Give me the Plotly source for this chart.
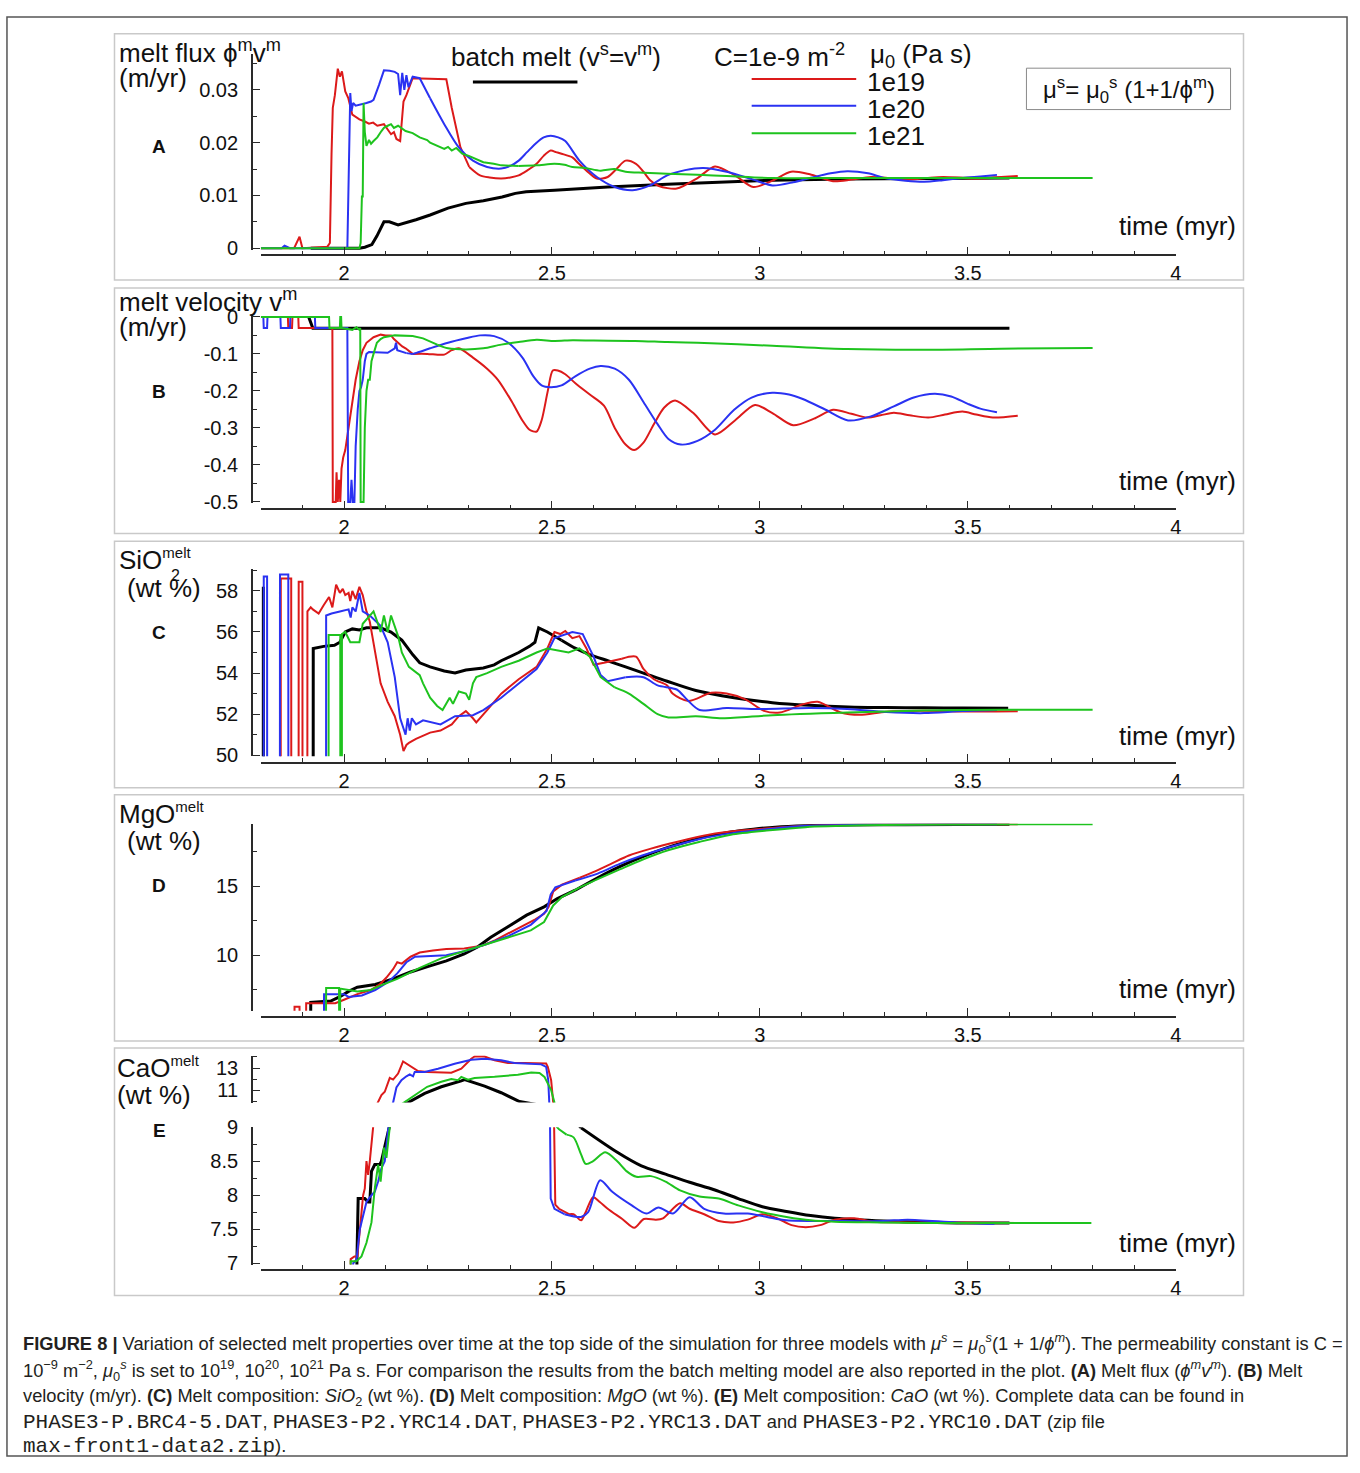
import plotly.graph_objects as go

W, H = 1360, 1473
FONT = "Liberation Sans, Arial, Helvetica, sans-serif"
MONO = "Liberation Mono, Courier New, monospace"
RED, BLUE, GREEN, BLACK = "#dc1a1a", "#2a32f2", "#1ec31e", "#000000"
AXC = "#2a2a2a"

# ---------------- Panel A : melt flux (m/yr) ----------------
A_black_t = [1.92, 2.037, 2.05, 2.067, 2.079, 2.096, 2.109, 2.13, 2.173, 2.207, 2.25, 2.293, 2.335, 2.38, 2.412, 2.438,
             2.506, 2.634, 2.777, 2.9, 3.03, 3.2, 3.4, 3.6]
A_black_v = [0, 0, 0.0002, 0.0007, 0.0023, 0.005, 0.005, 0.0044, 0.0054, 0.0063, 0.0076, 0.0085, 0.009, 0.0097, 0.0104,
             0.0107, 0.011, 0.0116, 0.0121, 0.0125, 0.0129, 0.0131, 0.0132, 0.0133]
A_red_t = [1.80, 1.88, 1.893, 1.897, 1.90, 1.96, 1.966, 1.970, 1.973, 1.978, 1.985, 1.990, 1.995, 2.003, 2.010, 2.020,
           2.030, 2.037, 2.050, 2.060, 2.070, 2.080, 2.096, 2.105, 2.113, 2.120, 2.126, 2.135, 2.143, 2.150, 2.156,
           2.165, 2.246, 2.259, 2.280, 2.301, 2.327, 2.350, 2.378, 2.400, 2.420, 2.440, 2.463, 2.480, 2.497, 2.510,
           2.523, 2.549, 2.565, 2.583, 2.608, 2.634, 2.655, 2.677, 2.702, 2.720, 2.736, 2.757, 2.800, 2.850, 2.892,
           2.940, 2.984, 3.030, 3.075, 3.120, 3.176, 3.220, 3.267, 3.310, 3.350, 3.400, 3.441, 3.490, 3.533, 3.580, 3.620]
A_red_v = [0, 0, 0.0022, 0.0005, 0, 0.0003, 0.001, 0.018, 0.0266, 0.029, 0.034, 0.0325, 0.0335, 0.0297, 0.0285, 0.0253,
           0.0248, 0.0244, 0.024, 0.0236, 0.0238, 0.0232, 0.0235, 0.0225, 0.0216, 0.022, 0.0207, 0.0203, 0.0278, 0.029,
           0.0303, 0.0322, 0.032, 0.0266, 0.0191, 0.0154, 0.0138, 0.0134, 0.0132, 0.0134, 0.0138, 0.0147, 0.016, 0.0175,
           0.0185, 0.0182, 0.0179, 0.0172, 0.016, 0.0147, 0.0132, 0.0135, 0.015, 0.0166, 0.016, 0.0145, 0.0129, 0.0118,
           0.0113, 0.0133, 0.0155, 0.0138, 0.0116, 0.0128, 0.0145, 0.014, 0.0127, 0.013, 0.0135, 0.0133, 0.013, 0.0133,
           0.0135, 0.0133, 0.0132, 0.0135, 0.0137]
A_blue_t = [1.80, 1.85, 1.857, 1.862, 1.87, 2.008, 2.012, 2.015, 2.018, 2.022, 2.028, 2.04, 2.054, 2.065, 2.071, 2.084,
            2.096, 2.11, 2.122, 2.13, 2.135, 2.14, 2.145, 2.15, 2.155, 2.165, 2.175, 2.182, 2.207, 2.241, 2.276, 2.31,
            2.344, 2.378, 2.40, 2.42, 2.44, 2.463, 2.48, 2.497, 2.515, 2.532, 2.566, 2.608, 2.651, 2.694, 2.736, 2.777,
            2.82, 2.864, 2.92, 2.984, 3.03, 3.08, 3.12, 3.17, 3.21, 3.26, 3.30, 3.35, 3.395, 3.44, 3.487, 3.53, 3.57]
A_blue_v = [0, 0, 0.0005, 0.0003, 0, 0, 0.02, 0.0294, 0.026, 0.0275, 0.027, 0.0272, 0.0275, 0.0278, 0.0281, 0.0309,
            0.0337, 0.0336, 0.0334, 0.033, 0.029, 0.0332, 0.030, 0.0328, 0.0305, 0.0325, 0.0323, 0.0322, 0.0284, 0.0235,
            0.0191, 0.0166, 0.0154, 0.0151, 0.0156, 0.0166, 0.0182, 0.02, 0.021, 0.0213, 0.021, 0.0203, 0.0166, 0.0135,
            0.0116, 0.011, 0.0119, 0.0138, 0.0148, 0.0152, 0.0145, 0.013, 0.0119, 0.0125, 0.0133, 0.0142, 0.0146, 0.0142,
            0.0133, 0.0128, 0.0126, 0.0129, 0.0133, 0.0136, 0.0139]
A_green_t = [1.80, 2.037, 2.040, 2.043, 2.045, 2.047, 2.050, 2.054, 2.06, 2.065, 2.071, 2.08, 2.09, 2.096, 2.105, 2.113,
             2.12, 2.13, 2.148, 2.165, 2.182, 2.20, 2.207, 2.22, 2.241, 2.25, 2.259, 2.27, 2.284, 2.30, 2.31, 2.335, 2.36,
             2.378, 2.42, 2.463, 2.506, 2.53, 2.549, 2.58, 2.617, 2.65, 2.677, 2.72, 2.777, 2.85, 2.92, 3.03, 3.2, 3.5, 3.8]
A_green_v = [0, 0, 0.001, 0.0098, 0.0098, 0.0275, 0.022, 0.0194, 0.0205, 0.0198, 0.0203, 0.021, 0.0222, 0.0228, 0.0232,
             0.0235, 0.0228, 0.0232, 0.0222, 0.0218, 0.021, 0.0205, 0.020, 0.0195, 0.0188, 0.0192, 0.0185, 0.019, 0.0179,
             0.0175, 0.0172, 0.0163, 0.016, 0.0157, 0.0156, 0.0157, 0.016, 0.0158, 0.0154, 0.0152, 0.0147, 0.015, 0.0145,
             0.0143, 0.0141, 0.0139, 0.0137, 0.0133, 0.0133, 0.0133, 0.0133]

# ---------------- Panel B : melt velocity (m/yr) ----------------
B_black_t = [1.915, 1.925, 3.6]
B_black_v = [0, -0.031, -0.031]
B_red_t = [1.80, 1.865, 1.866, 1.875, 1.876, 1.89, 1.891, 1.972, 1.973, 1.98, 1.982, 1.985, 1.988, 1.991, 1.994, 1.998,
           2.003, 2.007, 2.015, 2.02, 2.028, 2.037, 2.045, 2.054, 2.071, 2.088, 2.10, 2.113, 2.12, 2.13, 2.14, 2.148,
           2.165, 2.20, 2.241, 2.259, 2.276, 2.31, 2.344, 2.37, 2.404, 2.429, 2.446, 2.463, 2.475, 2.49, 2.502, 2.514,
           2.532, 2.557, 2.591, 2.625, 2.651, 2.677, 2.698, 2.72, 2.745, 2.77, 2.796, 2.84, 2.892, 2.94, 2.988, 3.03,
           3.08, 3.13, 3.176, 3.22, 3.258, 3.29, 3.322, 3.36, 3.405, 3.445, 3.487, 3.52, 3.56, 3.62]
B_red_v = [0, 0, -0.03, -0.03, 0, 0, -0.03, -0.03, -0.5, -0.5, -0.42, -0.5, -0.44, -0.5, -0.41, -0.38, -0.36, -0.33,
           -0.27, -0.22, -0.17, -0.12, -0.09, -0.07, -0.055, -0.048, -0.05, -0.05, -0.06, -0.07, -0.08, -0.085, -0.1,
           -0.1, -0.102, -0.09, -0.085, -0.11, -0.14, -0.17, -0.23, -0.28, -0.305, -0.31, -0.28, -0.2, -0.145, -0.145,
           -0.155, -0.18, -0.21, -0.24, -0.3, -0.345, -0.36, -0.34, -0.29, -0.245, -0.226, -0.26, -0.318, -0.28,
           -0.238, -0.26, -0.293, -0.275, -0.251, -0.262, -0.272, -0.266, -0.259, -0.266, -0.272, -0.264, -0.256,
           -0.264, -0.272, -0.267]
B_blue_t = [1.80, 1.806, 1.807, 1.815, 1.816, 1.847, 1.848, 1.87, 1.871, 1.93, 1.931, 2.008, 2.010, 2.015, 2.018, 2.021,
            2.025, 2.028, 2.033, 2.037, 2.041, 2.045, 2.05, 2.054, 2.06, 2.071, 2.09, 2.105, 2.122, 2.125, 2.128, 2.139,
            2.15, 2.165, 2.18, 2.207, 2.25, 2.293, 2.327, 2.361, 2.395, 2.429, 2.455, 2.475, 2.497, 2.523, 2.557, 2.591,
            2.617, 2.651, 2.685, 2.72, 2.754, 2.78, 2.81, 2.85, 2.892, 2.938, 2.98, 3.03, 3.07, 3.103, 3.158, 3.212,
            3.267, 3.322, 3.37, 3.42, 3.46, 3.5, 3.53, 3.57]
B_blue_v = [0, 0, -0.03, -0.03, 0, 0, -0.03, -0.03, 0, 0, -0.03, -0.03, -0.5, -0.5, -0.44, -0.5, -0.5, -0.35, -0.25,
            -0.2, -0.19, -0.17, -0.12, -0.1, -0.095, -0.095, -0.097, -0.097, -0.085, -0.07, -0.09, -0.095, -0.098, -0.1,
            -0.095, -0.085, -0.07, -0.058, -0.05, -0.052, -0.07, -0.11, -0.16, -0.185, -0.19, -0.185, -0.16, -0.14,
            -0.133, -0.14, -0.17, -0.23, -0.29, -0.33, -0.345, -0.335, -0.305, -0.251, -0.218, -0.205, -0.21, -0.222,
            -0.251, -0.28, -0.269, -0.242, -0.218, -0.208, -0.215, -0.235, -0.248, -0.258]
B_green_t = [1.80, 1.964, 1.965, 1.99, 1.991, 1.993, 1.994, 2.02, 2.03, 2.037, 2.039, 2.040, 2.047, 2.05, 2.054, 2.058,
             2.062, 2.066, 2.071, 2.079, 2.088, 2.096, 2.122, 2.165, 2.19, 2.224, 2.25, 2.293, 2.335, 2.378, 2.42, 2.463,
             2.506, 2.55, 2.6, 2.7, 2.777, 2.85, 3.03, 3.21, 3.395, 3.58, 3.8]
B_green_v = [0, 0, -0.03, -0.03, 0, 0, -0.03, -0.035, -0.028, -0.035, -0.03, -0.5, -0.5, -0.3, -0.2, -0.17, -0.17,
             -0.12, -0.1, -0.07, -0.06, -0.055, -0.05, -0.052, -0.058, -0.075, -0.085, -0.088, -0.085, -0.075, -0.068,
             -0.062, -0.065, -0.063, -0.064, -0.065, -0.068, -0.07, -0.078, -0.087, -0.089, -0.086, -0.084]

# ---------------- Panel C : SiO2 in melt (wt %) ----------------
C_black_t = [1.80, 1.805, 1.806, 1.807, 1.925, 1.926, 1.951, 1.977, 1.99, 2.003, 2.02, 2.037, 2.054, 2.088, 2.113, 2.139,
             2.165, 2.182, 2.207, 2.241, 2.267, 2.293, 2.335, 2.361, 2.378, 2.42, 2.446, 2.459, 2.468, 2.489, 2.523,
             2.557, 2.591, 2.634, 2.677, 2.72, 2.777, 2.846, 2.938, 3.03, 3.12, 3.212, 3.304, 3.395, 3.487, 3.597]
C_black_v = [0, 0, 58.2, 0, 0, 55.2, 55.3, 55.35, 55.5, 56.0, 56.15, 56.1, 56.2, 56.2, 56.0, 55.6, 54.9, 54.5, 54.3, 54.1,
             54.0, 54.15, 54.25, 54.4, 54.6, 55.0, 55.3, 55.5, 56.2, 56.0, 55.6, 55.2, 54.9, 54.6, 54.3, 54.0, 53.6, 53.15,
             52.8, 52.56, 52.43, 52.35, 52.32, 52.31, 52.3, 52.29]
C_red_t = [1.80, 1.847, 1.848, 1.873, 1.874, 1.89, 1.891, 1.90, 1.901, 1.911, 1.912, 1.92, 1.925, 1.939, 1.951, 1.958,
           1.964, 1.972, 1.981, 1.99, 1.997, 2.003, 2.011, 2.015, 2.02, 2.028, 2.037, 2.045, 2.054, 2.062, 2.071, 2.08,
           2.088, 2.105, 2.122, 2.135, 2.143, 2.15, 2.156, 2.173, 2.207, 2.232, 2.259, 2.276, 2.293, 2.31, 2.318, 2.344,
           2.378, 2.42, 2.463, 2.489, 2.506, 2.52, 2.532, 2.549, 2.566, 2.583, 2.6, 2.625, 2.668, 2.702, 2.72, 2.745,
           2.777, 2.79, 2.828, 2.883, 2.92, 2.965, 3.01, 3.048, 3.103, 3.139, 3.194, 3.24, 3.304, 3.395, 3.487, 3.62]
C_red_v = [0, 0, 58.6, 58.6, 0, 0, 58.45, 58.45, 0, 0, 57.0, 57.2, 57.1, 56.9, 57.3, 57.5, 57.7, 57.2, 58.3, 57.9, 58.1,
           57.8, 57.9, 57.5, 58.0, 57.6, 58.2, 57.8, 57.0, 56.5, 55.5, 54.5, 53.5, 52.6, 51.9, 51.0, 50.2, 50.5, 50.6,
           50.8, 51.1, 51.2, 51.5, 51.9, 52.15, 51.8, 51.6, 52.2, 53.0, 53.7, 54.3, 55.2, 56.0, 55.9, 56.05, 55.7, 55.8,
           55.2, 54.4, 54.5, 54.7, 54.8, 54.2, 53.7, 53.4, 53.0, 52.64, 53.04, 53.0, 52.72, 52.16, 52.08, 52.48, 52.6,
           52.08, 51.97, 52.12, 52.16, 52.13, 52.14]
C_blue_t = [1.80, 1.806, 1.807, 1.815, 1.816, 1.845, 1.846, 1.866, 1.867, 1.956, 1.957, 1.97, 1.99, 2.0, 2.011, 2.016,
            2.02, 2.028, 2.037, 2.045, 2.062, 2.088, 2.105, 2.122, 2.135, 2.148, 2.153, 2.158, 2.163, 2.173, 2.19, 2.232,
            2.267, 2.31, 2.335, 2.378, 2.42, 2.463, 2.489, 2.506, 2.549, 2.574, 2.6, 2.617, 2.634, 2.677, 2.72, 2.754,
            2.8, 2.825, 2.855, 2.92, 2.993, 3.12, 3.21, 3.304, 3.395, 3.487, 3.57]
C_blue_v = [0, 0, 58.7, 58.7, 0, 0, 58.8, 58.8, 0, 0, 56.8, 56.9, 57.0, 57.05, 57.1, 56.7, 57.2, 57.0, 57.9, 57.0, 56.8,
            56.3, 55.5, 53.8, 51.8, 51.0, 51.8, 51.2, 51.8, 51.5, 51.7, 51.5, 51.9, 51.95, 52.2, 52.8, 53.5, 54.2, 55.0,
            55.7, 56.0, 55.9, 54.8, 53.9, 53.6, 53.8, 53.8, 53.4, 53.2, 52.7, 52.2, 52.3, 52.25, 52.3, 52.25, 52.1,
            52.05, 52.15, 52.2]
C_green_t = [1.80, 1.962, 1.963, 1.991, 1.992, 1.994, 1.995, 2.003, 2.015, 2.037, 2.045, 2.071, 2.08, 2.088, 2.096,
             2.105, 2.113, 2.13, 2.139, 2.156, 2.182, 2.19, 2.207, 2.224, 2.237, 2.254, 2.262, 2.276, 2.293, 2.301, 2.31,
             2.318, 2.344, 2.378, 2.42, 2.463, 2.489, 2.515, 2.54, 2.566, 2.591, 2.617, 2.651, 2.685, 2.72, 2.754, 2.78,
             2.846, 2.91, 3.03, 3.21, 3.395, 3.58, 3.8]
C_green_v = [0, 0, 55.85, 55.85, 0, 0, 55.9, 56.0, 55.5, 55.5, 56.4, 57.0, 56.5, 56.0, 56.8, 56.0, 56.8, 55.8, 55.0,
             54.3, 53.9, 53.5, 52.8, 52.4, 52.2, 52.8, 52.5, 53.1, 53.0, 52.7, 53.5, 53.8, 54.0, 54.3, 54.6, 55.0, 55.2,
             55.1, 55.0, 55.2, 54.8, 53.8, 53.3, 53.0, 52.5, 52.0, 51.84, 51.9, 51.8, 51.95, 52.08, 52.18, 52.22, 52.22]

# ---------------- Panel D : MgO in melt (wt %) ----------------
D_black_t = [1.80, 1.919, 1.92, 1.968, 1.989, 2.011, 2.032, 2.075, 2.118, 2.16, 2.203, 2.246, 2.289, 2.321, 2.353, 2.396,
             2.439, 2.481, 2.513, 2.556, 2.61, 2.663, 2.717, 2.77, 2.824, 2.877, 2.93, 2.984, 3.037, 3.11, 3.2, 3.35, 3.6]
D_black_v = [0, 0, 6.6, 6.7, 7.0, 7.4, 7.7, 7.9, 8.3, 8.8, 9.2, 9.6, 10.1, 10.6, 11.3, 12.1, 12.9, 13.5, 14.1, 14.7,
             15.6, 16.4, 17.1, 17.7, 18.2, 18.6, 18.9, 19.1, 19.25, 19.35, 19.4, 19.43, 19.45]
D_red_t = [1.80, 1.880, 1.881, 1.893, 1.894, 1.908, 1.909, 1.979, 2.0, 2.032, 2.064, 2.086, 2.102, 2.118, 2.128, 2.139,
           2.16, 2.182, 2.214, 2.246, 2.289, 2.332, 2.364, 2.396, 2.428, 2.46, 2.481, 2.492, 2.503, 2.524, 2.567, 2.599,
           2.642, 2.685, 2.738, 2.802, 2.877, 2.952, 3.037, 3.11, 3.25, 3.45, 3.62]
D_red_v = [0, 0, 6.3, 6.3, 0, 0, 6.55, 6.55, 6.8, 7.2, 7.5, 7.9, 8.4, 9.0, 9.5, 9.4, 9.9, 10.2, 10.35, 10.45, 10.5, 10.7,
           11.1, 11.6, 12.1, 12.6, 13.0, 13.5, 14.6, 15.1, 15.6, 16.0, 16.6, 17.2, 17.7, 18.2, 18.7, 19.0, 19.2, 19.35,
           19.42, 19.45, 19.46]
D_blue_t = [1.80, 1.951, 1.952, 2.0, 2.011, 2.043, 2.075, 2.107, 2.128, 2.15, 2.171, 2.203, 2.246, 2.289, 2.342, 2.396,
            2.449, 2.487, 2.497, 2.508, 2.556, 2.61, 2.663, 2.717, 2.781, 2.856, 2.93, 3.016, 3.11, 3.25, 3.45, 3.57]
D_blue_v = [0, 0, 7.2, 7.2, 7.0, 7.1, 7.5, 8.1, 8.7, 9.5, 9.9, 9.95, 10.0, 10.3, 10.8, 11.4, 12.2, 13.2, 14.4, 14.9,
            15.4, 15.9, 16.6, 17.2, 17.8, 18.4, 18.8, 19.1, 19.35, 19.42, 19.45, 19.46]
D_green_t = [1.80, 1.956, 1.957, 1.988, 1.989, 1.99, 1.991, 2.011, 2.032, 2.064, 2.086, 2.128, 2.182, 2.235, 2.289, 2.342,
             2.396, 2.449, 2.481, 2.503, 2.524, 2.567, 2.61, 2.663, 2.717, 2.781, 2.856, 2.93, 3.016, 3.11, 3.25, 3.45,
             3.6, 3.8]
D_green_v = [0, 0, 7.65, 7.65, 0, 0, 7.6, 7.5, 7.4, 7.5, 7.8, 8.3, 9.1, 9.8, 10.3, 10.8, 11.3, 11.8, 12.4, 13.6, 14.2,
             14.9, 15.5, 16.2, 16.9, 17.6, 18.2, 18.7, 19.0, 19.25, 19.38, 19.44, 19.45, 19.46]

# ---------------- Panel E : CaO in melt (wt %) ----------------
E_black_t = [1.80, 2.03, 2.031, 2.034, 2.05, 2.058, 2.062, 2.066, 2.074, 2.086, 2.09, 2.12, 2.154, 2.194, 2.234, 2.282,
             2.29, 2.338, 2.378, 2.422, 2.57, 2.657, 2.715, 2.773, 2.831, 2.89, 2.948, 3.006, 3.064, 3.122, 3.18, 3.297,
             3.413, 3.483, 3.6]
E_black_v = [0, 0, 7.05, 7.95, 7.95, 7.9, 7.9, 8.35, 8.45, 8.45, 8.5, 9.3, 9.87, 10.7, 11.3, 11.84, 11.95, 11.36, 10.76,
             9.96, 8.99, 8.63, 8.43, 8.31, 8.19, 8.08, 7.95, 7.83, 7.76, 7.7, 7.66, 7.62, 7.6, 7.59, 7.59]
E_red_t = [1.80, 2.015, 2.016, 2.025, 2.032, 2.038, 2.046, 2.05, 2.054, 2.058, 2.062, 2.07, 2.075, 2.08, 2.09, 2.098,
           2.11, 2.118, 2.13, 2.142, 2.154, 2.166, 2.178, 2.2, 2.258, 2.282, 2.306, 2.314, 2.338, 2.362, 2.394, 2.434,
           2.474, 2.486, 2.49, 2.498, 2.504, 2.508, 2.517, 2.541, 2.552, 2.57, 2.581, 2.599, 2.615, 2.634, 2.669, 2.698,
           2.721, 2.75, 2.767, 2.808, 2.831, 2.866, 2.901, 2.936, 2.971, 3.006, 3.041, 3.076, 3.11, 3.145, 3.18, 3.227,
           3.273, 3.355, 3.471, 3.62]
E_red_v = [0, 0, 7.06, 7.1, 7.1, 7.5, 8.0, 8.1, 8.5, 8.3, 8.5, 9.0, 9.4, 9.87, 10.55, 10.85, 12.1, 11.95, 12.5, 13.6,
           13.33, 13.03, 12.73, 12.64, 12.58, 12.94, 13.84, 14.04, 14.04, 13.7, 13.45, 13.45, 13.4, 13.4, 13.1, 11.9,
           9.5, 7.86, 7.8, 7.72, 7.72, 7.63, 7.75, 7.97, 7.9, 7.8, 7.65, 7.52, 7.65, 7.64, 7.66, 7.88, 7.8, 7.72, 7.62,
           7.6, 7.64, 7.72, 7.66, 7.56, 7.53, 7.56, 7.64, 7.66, 7.61, 7.6, 7.6, 7.59]
E_blue_t = [1.80, 2.021, 2.022, 2.03, 2.038, 2.046, 2.054, 2.066, 2.074, 2.082, 2.09, 2.098, 2.106, 2.118, 2.126, 2.138,
            2.15, 2.158, 2.166, 2.17, 2.194, 2.226, 2.266, 2.306, 2.338, 2.378, 2.41, 2.45, 2.474, 2.486, 2.491, 2.494,
            2.497, 2.506, 2.53, 2.57, 2.587, 2.616, 2.645, 2.692, 2.727, 2.756, 2.791, 2.831, 2.866, 2.913, 2.971,
            3.017, 3.064, 3.18, 3.297, 3.355, 3.471, 3.564]
E_blue_v = [0, 0, 7.0, 7.05, 7.5, 7.7, 7.9, 8.0, 8.05, 8.2, 8.4, 8.5, 9.0, 9.87, 11.24, 11.9, 12.25, 12.43, 12.25, 12.64,
            12.64, 12.94, 13.39, 13.75, 13.84, 13.7, 13.45, 13.4, 13.33, 13.1, 11.9, 9.5, 7.95, 7.8, 7.72, 7.68, 7.75,
            8.22, 8.05, 7.85, 7.73, 7.82, 7.73, 7.97, 7.8, 7.73, 7.73, 7.68, 7.63, 7.62, 7.62, 7.64, 7.6, 7.58]
E_green_t = [1.80, 2.015, 2.016, 2.03, 2.042, 2.054, 2.066, 2.074, 2.082, 2.088, 2.096, 2.102, 2.11, 2.144, 2.17, 2.2,
             2.234, 2.258, 2.274, 2.282, 2.298, 2.314, 2.362, 2.418, 2.45, 2.47, 2.482, 2.498, 2.506, 2.512, 2.517,
             2.535, 2.552, 2.57, 2.581, 2.599, 2.628, 2.657, 2.68, 2.703, 2.738, 2.773, 2.808, 2.855, 2.901, 2.948,
             3.006, 3.064, 3.122, 3.18, 3.297, 3.413, 3.797]
E_green_v = [0, 0, 7.03, 7.03, 7.1, 7.3, 7.6, 8.1, 8.45, 8.2, 8.7, 8.55, 9.0, 9.87, 10.55, 11.3, 11.75, 12.0, 11.9, 12.2,
             11.95, 12.1, 12.2, 12.4, 12.6, 12.55, 12.2, 11.0, 9.87, 9.0, 8.97, 8.89, 8.85, 8.6, 8.46, 8.5, 8.63, 8.5,
             8.35, 8.27, 8.28, 8.2, 8.07, 7.98, 7.95, 7.85, 7.75, 7.68, 7.63, 7.61, 7.6, 7.59, 7.59]

# ---------------- ticks ----------------
X_TICKS = [2, 2.5, 3, 3.5, 4]
X_TICK_TEXT = ["2", "2.5", "3", "3.5", "4"]
A_TICKS = [0, 0.01, 0.02, 0.03]
A_TICK_TEXT = ["0", "0.01", "0.02", "0.03"]
B_TICKS = [0, -0.1, -0.2, -0.3, -0.4, -0.5]
B_TICK_TEXT = ["0", "-0.1", "-0.2", "-0.3", "-0.4", "-0.5"]
C_TICKS = [50, 52, 54, 56, 58]
C_TICK_TEXT = ["50", "52", "54", "56", "58"]
D_TICKS = [10, 15]
D_TICK_TEXT = ["10", "15"]
E_LOW_TICKS = [7, 7.5, 8, 8.5, 9]
E_LOW_TICK_TEXT = ["7", "7.5", "8", "8.5", "9"]
E_UP_TICKS = [11, 13]
E_UP_TICK_TEXT = ["11", "13"]

SERIES = ["batch melt", "1e19", "1e20", "1e21"]
COLORS = [BLACK, RED, BLUE, GREEN]
WIDTHS = [3, 2, 2, 2]

PANELS = {
    "A": [(A_black_t, A_black_v), (A_red_t, A_red_v), (A_blue_t, A_blue_v), (A_green_t, A_green_v)],
    "B": [(B_black_t, B_black_v), (B_red_t, B_red_v), (B_blue_t, B_blue_v), (B_green_t, B_green_v)],
    "C": [(C_black_t, C_black_v), (C_red_t, C_red_v), (C_blue_t, C_blue_v), (C_green_t, C_green_v)],
    "D": [(D_black_t, D_black_v), (D_red_t, D_red_v), (D_blue_t, D_blue_v), (D_green_t, D_green_v)],
    "E": [(E_black_t, E_black_v), (E_red_t, E_red_v), (E_blue_t, E_blue_v), (E_green_t, E_green_v)],
}
for k, lst in PANELS.items():
    for i, (t, v) in enumerate(lst):
        assert len(t) == len(v), (k, i, len(t), len(v))

# time from which each curve is drawn as a smooth (spline) line; before it, straight segments keep the jumps sharp
SMOOTH_FROM = {"A": [None, 2.30, 2.20, 2.40], "B": [None, 2.15, 2.15, 2.20], "C": [2.50, 2.65, 2.65, 2.65],
               "D": [2.55, 2.55, 2.55, 2.55], "E": [2.57, 2.52, 2.51, 2.52]}


def fx(p):
    return p / W


def fy(p):
    return 1 - p / H


fig = go.Figure()

TRACE_AXES = {"A": [("x", "y")], "B": [("x2", "y2")], "C": [("x3", "y3")], "D": [("x4", "y4")],
              "E": [("x5", "y5"), ("x5", "y6")]}
for key, lst in PANELS.items():
    for xa, ya in TRACE_AXES[key]:
        for (t, v), name, col, w, s0 in zip(lst, SERIES, COLORS, WIDTHS, SMOOTH_FROM[key]):
            parts = []
            if s0 is None:
                parts.append((t, v, "linear"))
            else:
                k0 = next(i for i, tt in enumerate(t) if tt >= s0)
                parts.append((t[:k0 + 1], v[:k0 + 1], "linear"))
                parts.append((t[k0:], v[k0:], "spline"))
            for tt, vv, shp in parts:
                fig.add_trace(go.Scatter(x=tt, y=vv, mode="lines", name=name, showlegend=False,
                                         line=dict(color=col, width=w, shape=shp, smoothing=0.8),
                                         xaxis=xa, yaxis=ya, hoverinfo="skip"))

TICKFONT = dict(family=FONT, size=20, color="#111")


def xaxis(line_y):
    return dict(domain=[fx(262), fx(1181)], range=[1.8, 4], anchor="free", position=fy(line_y),
                showline=True, linecolor=AXC, linewidth=1.5, ticks="inside", ticklen=8, tickwidth=1.3,
                tickcolor=AXC, tickmode="array", tickvals=X_TICKS, ticktext=X_TICK_TEXT, tickfont=TICKFONT,
                minor=dict(ticks="inside", ticklen=4, tickwidth=1, tickcolor=AXC, tick0=2, dtick=0.1),
                showgrid=False, zeroline=False, fixedrange=True)


def yaxis(v_ref, p_ref, ppu, rng, ticks, texts, mdt, mt0):
    pbot = p_ref + (v_ref - rng[0]) * ppu
    ptop = p_ref - (rng[1] - v_ref) * ppu
    return dict(domain=[fy(pbot), fy(ptop)], range=rng, anchor="free", position=fx(253),
                showline=True, linecolor=AXC, linewidth=1.5, ticks="inside", ticklen=7, tickwidth=1.3,
                tickcolor=AXC, tickmode="array", tickvals=ticks, ticktext=texts, tickfont=TICKFONT,
                ticklabelstandoff=9,
                minor=dict(ticks="inside", ticklen=4, tickwidth=1, tickcolor=AXC, tick0=mt0, dtick=mdt),
                showgrid=False, zeroline=False, fixedrange=True)


layout = dict(
    width=W, height=H, margin=dict(l=0, r=0, t=0, b=0),
    paper_bgcolor="white", plot_bgcolor="rgba(0,0,0,0)", showlegend=False,
    font=dict(family=FONT, color="#111"),
    xaxis=xaxis(248), xaxis2=xaxis(505.7), xaxis3=xaxis(762.7), xaxis4=xaxis(1020.3), xaxis5=xaxis(1277.3),
    yaxis=yaxis(0, 240.7, 5357, [-0.0004, 0.0368], A_TICKS, A_TICK_TEXT, 0.005, 0),
    yaxis2=yaxis(0, 310.3, 375.4, [-0.504, 0.004], B_TICKS, B_TICK_TEXT, 0.05, 0),
    yaxis3=yaxis(50, 755, 20.84, [49.95, 59.05], C_TICKS, C_TICK_TEXT, 1, 0),
    yaxis4=yaxis(10, 958, 14.06, [6.0, 19.5], D_TICKS, D_TICK_TEXT, 2.5, 0),
    yaxis5=yaxis(7, 1270.3, 69, [6.98, 9.0], E_LOW_TICKS, E_LOW_TICK_TEXT, 0.25, 0),
    yaxis6=yaxis(11, 1094.7, 11.2, [9.87, 14.13], E_UP_TICKS, E_UP_TICK_TEXT, 1, 0),
)
fig.update_layout(**layout)

shapes = []
shapes.append(dict(type="rect", xref="paper", yref="paper", x0=fx(7), x1=fx(1353), y0=fy(1466), y1=fy(6),
                   line=dict(color="#555", width=1.5), layer="below"))
for top, bot in [(23, 273), (281, 530), (538, 788), (795, 1045), (1052, 1303)]:
    shapes.append(dict(type="rect", xref="paper", yref="paper", x0=fx(115), x1=fx(1249), y0=fy(bot), y1=fy(top),
                       line=dict(color="#c9c9c9", width=1.5), layer="below"))
shapes.append(dict(type="line", xref="paper", yref="paper", x0=fx(475), x1=fx(580), y0=fy(72), y1=fy(72),
                   line=dict(color=BLACK, width=3)))
for yy, col in [(69, RED), (96, BLUE), (124, GREEN)]:
    shapes.append(dict(type="line", xref="paper", yref="paper", x0=fx(755), x1=fx(860), y0=fy(yy), y1=fy(yy),
                       line=dict(color=col, width=2)))
shapes.append(dict(type="rect", xref="paper", yref="paper", x0=fx(1031), x1=fx(1236), y0=fy(100), y1=fy(58),
                   line=dict(color="#8a8a8a", width=1)))
fig.update_layout(shapes=shapes)

ann = []


def text(x, y, s, size=26, xanchor="left", yanchor="middle", family=FONT, color="#111"):
    ann.append(dict(x=fx(x), y=fy(y), xref="paper", yref="paper", text=s, showarrow=False, xanchor=xanchor,
                    yanchor=yanchor, font=dict(family=family, size=size, color=color), align="left"))


SUPM = '<sup><span style="font-size:15px">melt</span></sup>'
text(118, 41, "melt flux ϕ<sup>m</sup>v<sup>m</sup>")
text(118, 68, "(m/yr)")
text(118, 294, "melt velocity v<sup>m</sup>")
text(118, 321, "(m/yr)")
text(118, 556, "SiO" + SUPM)
text(170, 573, "2", size=16)
text(126, 585, "(wt %)")
text(118, 814, "MgO" + SUPM)
text(126, 842, "(wt %)")
text(116, 1072, "CaO" + SUPM)
text(116, 1100, "(wt %)")
for lab, yy in [("A", 137), ("B", 386), ("C", 630), ("D", 887), ("E", 1136)]:
    text(160, yy, "<b>%s</b>" % lab, size=19, xanchor="center")
for yy in [218, 477, 735, 992, 1250]:
    text(1243, yy, "time (myr)", xanchor="right")
text(451, 45, "batch melt (v<sup>s</sup>=v<sup>m</sup>)")
text(715, 45, "C=1e-9 m<sup>-2</sup>")
text(872, 45, "μ<sub>0</sub> (Pa s)")
text(869, 72, "1e19")
text(869, 99, "1e20")
text(869, 127, "1e21")
text(1134, 80, "μ<sup>s</sup>= μ<sub>0</sub><sup>s</sup> (1+1/ϕ<sup>m</sup>)", size=24, xanchor="center")


def mono(s):
    return '<span style="font-family:Liberation Mono,Courier New,monospace;font-size:21px">%s</span>' % s


CAP = [
    "<b>FIGURE 8 |</b> Variation of selected melt properties over time at the top side of the simulation for three "
    "models with <i>μ</i><sup><i>s</i></sup> = <i>μ</i><sub>0</sub><sup><i>s</i></sup>(1 + 1/<i>ϕ</i><sup><i>m</i></sup>)."
    " The permeability constant is C =",
    "10<sup>−9</sup> m<sup>−2</sup>, <i>μ</i><sub>0</sub><sup><i>s</i></sup> is set to 10<sup>19</sup>, 10<sup>20</sup>,"
    " 10<sup>21</sup> Pa s. For comparison the results from the batch melting model are also reported in the plot."
    " <b>(A)</b> Melt flux (<i>ϕ</i><sup><i>m</i></sup><i>v</i><sup><i>m</i></sup>). <b>(B)</b> Melt",
    "velocity (m/yr). <b>(C)</b> Melt composition: <i>SiO</i><sub>2</sub> (wt %). <b>(D)</b> Melt composition:"
    " <i>MgO</i> (wt %). <b>(E)</b> Melt composition: <i>CaO</i> (wt %). Complete data can be found in",
    mono("PHASE3-P.BRC4-5.DAT") + ", " + mono("PHASE3-P2.YRC14.DAT") + ", " + mono("PHASE3-P2.YRC13.DAT")
    + " and " + mono("PHASE3-P2.YRC10.DAT") + " (zip file",
    mono("max-front1-data2.zip") + ").",
]
for s, yy in zip(CAP, [1352, 1379, 1406, 1432, 1456]):
    text(21, yy, s, size=18.3, color="#231f20")

fig.update_layout(annotations=ann)

POST = (
    "document.documentElement.style.margin='0px';"
    "document.body.style.margin='0px';document.body.style.padding='0px';"
    "document.body.style.overflow='hidden';document.documentElement.style.overflow='hidden';"
    "var gd=document.getElementsByClassName('plotly-graph-div')[0];"
    "gd.style.position='absolute';gd.style.left='0px';gd.style.top='0px';"
)
fig.write_html("out.html", config={"displayModeBar": False, "responsive": False}, post_script=POST)
